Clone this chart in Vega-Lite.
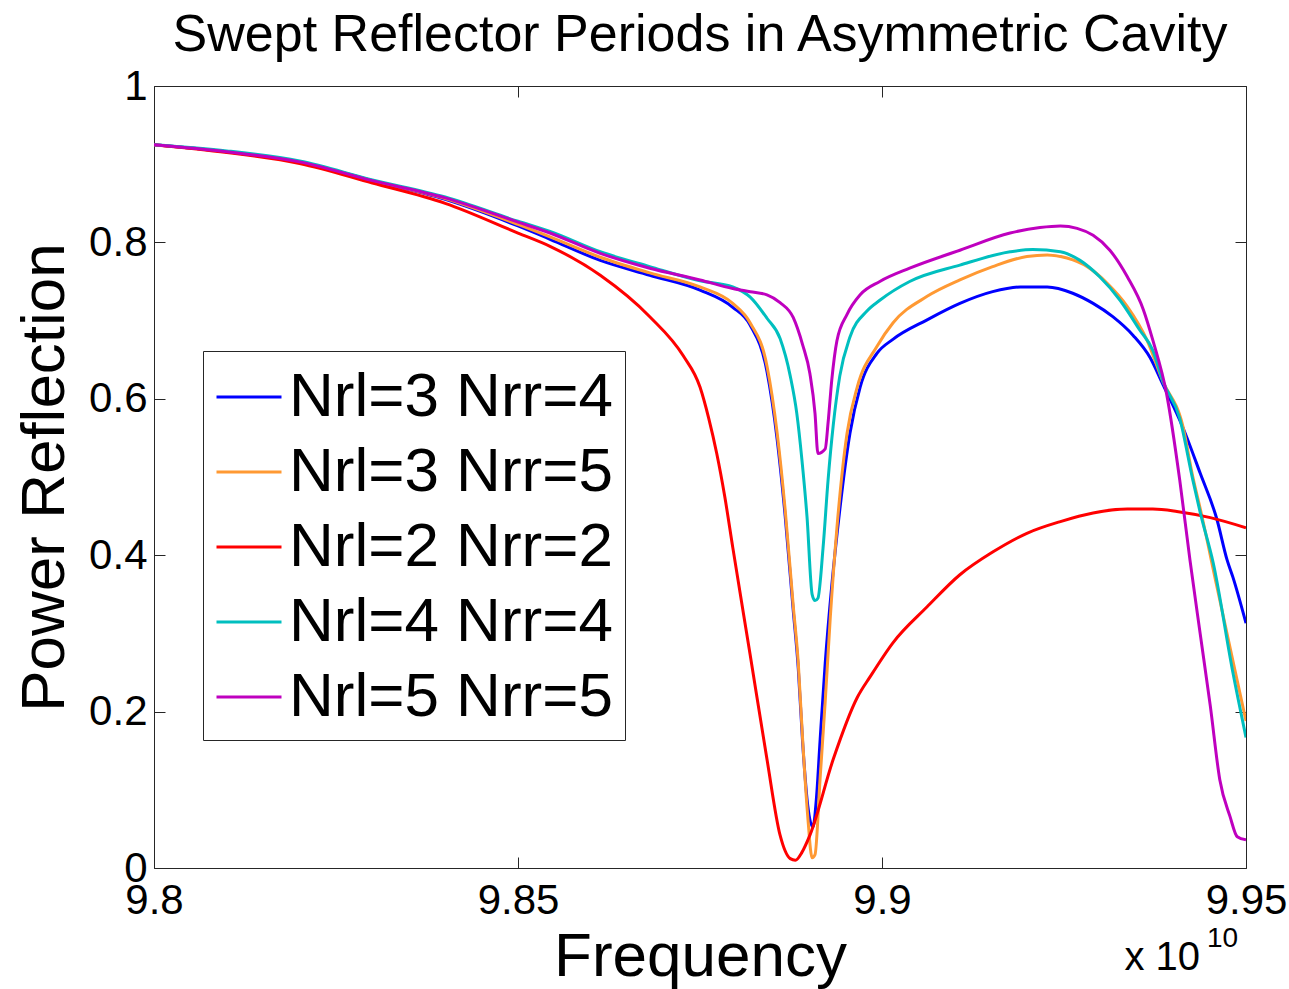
{
  "$schema": "https://vega.github.io/schema/vega-lite/v6.json",
  "autosize": "none",
  "padding": {"left": 154, "top": 86, "right": 43, "bottom": 121},
  "width": 1092,
  "height": 782,
  "title": {"text": "Swept Reflector Periods in Asymmetric Cavity", "font": "Liberation Sans", "fontSize": 52, "fontWeight": "normal", "color": "black", "anchor": "middle", "baseline": "alphabetic", "offset": 0, "dy": 38},
  "datasets": {
    "curves": [
      {"s":"Nrl=3 Nrr=4","f":9.80,"r":0.925},{"s":"Nrl=3 Nrr=4","f":9.81,"r":0.916},{"s":"Nrl=3 Nrr=4","f":9.82,"r":0.903},{"s":"Nrl=3 Nrr=4","f":9.83,"r":0.879},{"s":"Nrl=3 Nrr=4","f":9.84,"r":0.855},{"s":"Nrl=3 Nrr=4","f":9.85,"r":0.821},{"s":"Nrl=3 Nrr=4","f":9.8544,"r":0.804},{"s":"Nrl=3 Nrr=4","f":9.8613,"r":0.777},{"s":"Nrl=3 Nrr=4","f":9.8681,"r":0.758},{"s":"Nrl=3 Nrr=4","f":9.875,"r":0.739},{"s":"Nrl=3 Nrr=4","f":9.8795,"r":0.717},{"s":"Nrl=3 Nrr=4","f":9.8819,"r":0.694},{"s":"Nrl=3 Nrr=4","f":9.8842,"r":0.635},{"s":"Nrl=3 Nrr=4","f":9.8856,"r":0.548},{"s":"Nrl=3 Nrr=4","f":9.8867,"r":0.45},{"s":"Nrl=3 Nrr=4","f":9.8878,"r":0.33},{"s":"Nrl=3 Nrr=4","f":9.8885,"r":0.255},{"s":"Nrl=3 Nrr=4","f":9.8891,"r":0.16},{"s":"Nrl=3 Nrr=4","f":9.8898,"r":0.08},{"s":"Nrl=3 Nrr=4","f":9.8905,"r":0.052},{"s":"Nrl=3 Nrr=4","f":9.891,"r":0.09},{"s":"Nrl=3 Nrr=4","f":9.8915,"r":0.164},{"s":"Nrl=3 Nrr=4","f":9.8922,"r":0.262},{"s":"Nrl=3 Nrr=4","f":9.8931,"r":0.361},{"s":"Nrl=3 Nrr=4","f":9.8942,"r":0.458},{"s":"Nrl=3 Nrr=4","f":9.8956,"r":0.556},{"s":"Nrl=3 Nrr=4","f":9.897,"r":0.615},{"s":"Nrl=3 Nrr=4","f":9.8993,"r":0.658},{"s":"Nrl=3 Nrr=4","f":9.9015,"r":0.676},{"s":"Nrl=3 Nrr=4","f":9.9062,"r":0.701},{"s":"Nrl=3 Nrr=4","f":9.9107,"r":0.722},{"s":"Nrl=3 Nrr=4","f":9.9152,"r":0.737},{"s":"Nrl=3 Nrr=4","f":9.919,"r":0.743},{"s":"Nrl=3 Nrr=4","f":9.9227,"r":0.743},{"s":"Nrl=3 Nrr=4","f":9.9262,"r":0.735},{"s":"Nrl=3 Nrr=4","f":9.929,"r":0.722},{"s":"Nrl=3 Nrr=4","f":9.9317,"r":0.705},{"s":"Nrl=3 Nrr=4","f":9.9345,"r":0.681},{"s":"Nrl=3 Nrr=4","f":9.9368,"r":0.653},{"s":"Nrl=3 Nrr=4","f":9.9386,"r":0.618},{"s":"Nrl=3 Nrr=4","f":9.9413,"r":0.564},{"s":"Nrl=3 Nrr=4","f":9.9437,"r":0.505},{"s":"Nrl=3 Nrr=4","f":9.946,"r":0.446},{"s":"Nrl=3 Nrr=4","f":9.9474,"r":0.394},{"s":"Nrl=3 Nrr=4","f":9.9482,"r":0.372},{"s":"Nrl=3 Nrr=4","f":9.95,"r":0.313},

      {"s":"Nrl=3 Nrr=5","f":9.80,"r":0.925},{"s":"Nrl=3 Nrr=5","f":9.81,"r":0.916},{"s":"Nrl=3 Nrr=5","f":9.82,"r":0.903},{"s":"Nrl=3 Nrr=5","f":9.83,"r":0.879},{"s":"Nrl=3 Nrr=5","f":9.84,"r":0.856},{"s":"Nrl=3 Nrr=5","f":9.85,"r":0.823},{"s":"Nrl=3 Nrr=5","f":9.8544,"r":0.807},{"s":"Nrl=3 Nrr=5","f":9.8613,"r":0.781},{"s":"Nrl=3 Nrr=5","f":9.8681,"r":0.761},{"s":"Nrl=3 Nrr=5","f":9.875,"r":0.743},{"s":"Nrl=3 Nrr=5","f":9.8795,"r":0.722},{"s":"Nrl=3 Nrr=5","f":9.8819,"r":0.697},{"s":"Nrl=3 Nrr=5","f":9.8842,"r":0.642},{"s":"Nrl=3 Nrr=5","f":9.8856,"r":0.556},{"s":"Nrl=3 Nrr=5","f":9.8867,"r":0.458},{"s":"Nrl=3 Nrr=5","f":9.8878,"r":0.336},{"s":"Nrl=3 Nrr=5","f":9.8885,"r":0.262},{"s":"Nrl=3 Nrr=5","f":9.8891,"r":0.164},{"s":"Nrl=3 Nrr=5","f":9.8898,"r":0.066},{"s":"Nrl=3 Nrr=5","f":9.8904,"r":0.013},{"s":"Nrl=3 Nrr=5","f":9.8908,"r":0.017},{"s":"Nrl=3 Nrr=5","f":9.8915,"r":0.115},{"s":"Nrl=3 Nrr=5","f":9.8922,"r":0.213},{"s":"Nrl=3 Nrr=5","f":9.8929,"r":0.321},{"s":"Nrl=3 Nrr=5","f":9.8938,"r":0.434},{"s":"Nrl=3 Nrr=5","f":9.8952,"r":0.556},{"s":"Nrl=3 Nrr=5","f":9.8966,"r":0.615},{"s":"Nrl=3 Nrr=5","f":9.8993,"r":0.667},{"s":"Nrl=3 Nrr=5","f":9.9015,"r":0.697},{"s":"Nrl=3 Nrr=5","f":9.9062,"r":0.731},{"s":"Nrl=3 Nrr=5","f":9.9107,"r":0.752},{"s":"Nrl=3 Nrr=5","f":9.9152,"r":0.769},{"s":"Nrl=3 Nrr=5","f":9.9199,"r":0.782},{"s":"Nrl=3 Nrr=5","f":9.9227,"r":0.784},{"s":"Nrl=3 Nrr=5","f":9.9254,"r":0.78},{"s":"Nrl=3 Nrr=5","f":9.9282,"r":0.769},{"s":"Nrl=3 Nrr=5","f":9.9309,"r":0.748},{"s":"Nrl=3 Nrr=5","f":9.9337,"r":0.718},{"s":"Nrl=3 Nrr=5","f":9.9364,"r":0.675},{"s":"Nrl=3 Nrr=5","f":9.9386,"r":0.622},{"s":"Nrl=3 Nrr=5","f":9.9413,"r":0.566},{"s":"Nrl=3 Nrr=5","f":9.9427,"r":0.5},{"s":"Nrl=3 Nrr=5","f":9.9437,"r":0.46},{"s":"Nrl=3 Nrr=5","f":9.946,"r":0.36},{"s":"Nrl=3 Nrr=5","f":9.9482,"r":0.265},{"s":"Nrl=3 Nrr=5","f":9.95,"r":0.188},

      {"s":"Nrl=2 Nrr=2","f":9.80,"r":0.925},{"s":"Nrl=2 Nrr=2","f":9.81,"r":0.915},{"s":"Nrl=2 Nrr=2","f":9.82,"r":0.901},{"s":"Nrl=2 Nrr=2","f":9.83,"r":0.876},{"s":"Nrl=2 Nrr=2","f":9.84,"r":0.85},{"s":"Nrl=2 Nrr=2","f":9.85,"r":0.812},{"s":"Nrl=2 Nrr=2","f":9.8544,"r":0.795},{"s":"Nrl=2 Nrr=2","f":9.8613,"r":0.758},{"s":"Nrl=2 Nrr=2","f":9.8681,"r":0.705},{"s":"Nrl=2 Nrr=2","f":9.8727,"r":0.655},{"s":"Nrl=2 Nrr=2","f":9.875,"r":0.615},{"s":"Nrl=2 Nrr=2","f":9.8762,"r":0.575},{"s":"Nrl=2 Nrr=2","f":9.8773,"r":0.53},{"s":"Nrl=2 Nrr=2","f":9.8784,"r":0.475},{"s":"Nrl=2 Nrr=2","f":9.8795,"r":0.41},{"s":"Nrl=2 Nrr=2","f":9.8819,"r":0.272},{"s":"Nrl=2 Nrr=2","f":9.8842,"r":0.139},{"s":"Nrl=2 Nrr=2","f":9.886,"r":0.042},{"s":"Nrl=2 Nrr=2","f":9.8874,"r":0.012},{"s":"Nrl=2 Nrr=2","f":9.8881,"r":0.01},{"s":"Nrl=2 Nrr=2","f":9.889,"r":0.02},{"s":"Nrl=2 Nrr=2","f":9.8901,"r":0.042},{"s":"Nrl=2 Nrr=2","f":9.8933,"r":0.139},{"s":"Nrl=2 Nrr=2","f":9.8966,"r":0.218},{"s":"Nrl=2 Nrr=2","f":9.8984,"r":0.245},{"s":"Nrl=2 Nrr=2","f":9.9015,"r":0.288},{"s":"Nrl=2 Nrr=2","f":9.9062,"r":0.334},{"s":"Nrl=2 Nrr=2","f":9.9107,"r":0.375},{"s":"Nrl=2 Nrr=2","f":9.9152,"r":0.404},{"s":"Nrl=2 Nrr=2","f":9.9199,"r":0.428},{"s":"Nrl=2 Nrr=2","f":9.9245,"r":0.443},{"s":"Nrl=2 Nrr=2","f":9.929,"r":0.454},{"s":"Nrl=2 Nrr=2","f":9.9337,"r":0.459},{"s":"Nrl=2 Nrr=2","f":9.9372,"r":0.459},{"s":"Nrl=2 Nrr=2","f":9.9405,"r":0.456},{"s":"Nrl=2 Nrr=2","f":9.9451,"r":0.448},{"s":"Nrl=2 Nrr=2","f":9.95,"r":0.435},

      {"s":"Nrl=4 Nrr=4","f":9.80,"r":0.925},{"s":"Nrl=4 Nrr=4","f":9.81,"r":0.917},{"s":"Nrl=4 Nrr=4","f":9.82,"r":0.904},{"s":"Nrl=4 Nrr=4","f":9.83,"r":0.88},{"s":"Nrl=4 Nrr=4","f":9.84,"r":0.858},{"s":"Nrl=4 Nrr=4","f":9.85,"r":0.827},{"s":"Nrl=4 Nrr=4","f":9.8544,"r":0.814},{"s":"Nrl=4 Nrr=4","f":9.8613,"r":0.788},{"s":"Nrl=4 Nrr=4","f":9.8681,"r":0.769},{"s":"Nrl=4 Nrr=4","f":9.875,"r":0.751},{"s":"Nrl=4 Nrr=4","f":9.8795,"r":0.743},{"s":"Nrl=4 Nrr=4","f":9.8819,"r":0.73},{"s":"Nrl=4 Nrr=4","f":9.8842,"r":0.703},{"s":"Nrl=4 Nrr=4","f":9.886,"r":0.677},{"s":"Nrl=4 Nrr=4","f":9.8874,"r":0.629},{"s":"Nrl=4 Nrr=4","f":9.8883,"r":0.581},{"s":"Nrl=4 Nrr=4","f":9.889,"r":0.522},{"s":"Nrl=4 Nrr=4","f":9.8897,"r":0.449},{"s":"Nrl=4 Nrr=4","f":9.8904,"r":0.35},{"s":"Nrl=4 Nrr=4","f":9.8908,"r":0.342},{"s":"Nrl=4 Nrr=4","f":9.8912,"r":0.345},{"s":"Nrl=4 Nrr=4","f":9.8919,"r":0.409},{"s":"Nrl=4 Nrr=4","f":9.8926,"r":0.497},{"s":"Nrl=4 Nrr=4","f":9.8933,"r":0.566},{"s":"Nrl=4 Nrr=4","f":9.8942,"r":0.629},{"s":"Nrl=4 Nrr=4","f":9.8956,"r":0.679},{"s":"Nrl=4 Nrr=4","f":9.8979,"r":0.712},{"s":"Nrl=4 Nrr=4","f":9.8997,"r":0.726},{"s":"Nrl=4 Nrr=4","f":9.9038,"r":0.75},{"s":"Nrl=4 Nrr=4","f":9.9107,"r":0.771},{"s":"Nrl=4 Nrr=4","f":9.9176,"r":0.788},{"s":"Nrl=4 Nrr=4","f":9.9207,"r":0.791},{"s":"Nrl=4 Nrr=4","f":9.9245,"r":0.788},{"s":"Nrl=4 Nrr=4","f":9.9272,"r":0.777},{"s":"Nrl=4 Nrr=4","f":9.9299,"r":0.756},{"s":"Nrl=4 Nrr=4","f":9.9327,"r":0.726},{"s":"Nrl=4 Nrr=4","f":9.9354,"r":0.688},{"s":"Nrl=4 Nrr=4","f":9.9372,"r":0.662},{"s":"Nrl=4 Nrr=4","f":9.9386,"r":0.622},{"s":"Nrl=4 Nrr=4","f":9.9409,"r":0.575},{"s":"Nrl=4 Nrr=4","f":9.9427,"r":0.496},{"s":"Nrl=4 Nrr=4","f":9.9437,"r":0.455},{"s":"Nrl=4 Nrr=4","f":9.9455,"r":0.39},{"s":"Nrl=4 Nrr=4","f":9.9482,"r":0.25},{"s":"Nrl=4 Nrr=4","f":9.95,"r":0.167},

      {"s":"Nrl=5 Nrr=5","f":9.80,"r":0.925},{"s":"Nrl=5 Nrr=5","f":9.81,"r":0.916},{"s":"Nrl=5 Nrr=5","f":9.82,"r":0.903},{"s":"Nrl=5 Nrr=5","f":9.83,"r":0.879},{"s":"Nrl=5 Nrr=5","f":9.84,"r":0.857},{"s":"Nrl=5 Nrr=5","f":9.85,"r":0.826},{"s":"Nrl=5 Nrr=5","f":9.8544,"r":0.812},{"s":"Nrl=5 Nrr=5","f":9.8613,"r":0.786},{"s":"Nrl=5 Nrr=5","f":9.8681,"r":0.767},{"s":"Nrl=5 Nrr=5","f":9.875,"r":0.752},{"s":"Nrl=5 Nrr=5","f":9.8795,"r":0.741},{"s":"Nrl=5 Nrr=5","f":9.8819,"r":0.737},{"s":"Nrl=5 Nrr=5","f":9.8842,"r":0.733},{"s":"Nrl=5 Nrr=5","f":9.886,"r":0.723},{"s":"Nrl=5 Nrr=5","f":9.8878,"r":0.704},{"s":"Nrl=5 Nrr=5","f":9.8891,"r":0.669},{"s":"Nrl=5 Nrr=5","f":9.8901,"r":0.632},{"s":"Nrl=5 Nrr=5","f":9.8908,"r":0.581},{"s":"Nrl=5 Nrr=5","f":9.8912,"r":0.53},{"s":"Nrl=5 Nrr=5","f":9.8922,"r":0.536},{"s":"Nrl=5 Nrr=5","f":9.8926,"r":0.57},{"s":"Nrl=5 Nrr=5","f":9.8931,"r":0.624},{"s":"Nrl=5 Nrr=5","f":9.8938,"r":0.674},{"s":"Nrl=5 Nrr=5","f":9.8952,"r":0.708},{"s":"Nrl=5 Nrr=5","f":9.897,"r":0.733},{"s":"Nrl=5 Nrr=5","f":9.8997,"r":0.75},{"s":"Nrl=5 Nrr=5","f":9.9038,"r":0.767},{"s":"Nrl=5 Nrr=5","f":9.9107,"r":0.79},{"s":"Nrl=5 Nrr=5","f":9.9176,"r":0.812},{"s":"Nrl=5 Nrr=5","f":9.9217,"r":0.819},{"s":"Nrl=5 Nrr=5","f":9.9245,"r":0.821},{"s":"Nrl=5 Nrr=5","f":9.9268,"r":0.818},{"s":"Nrl=5 Nrr=5","f":9.929,"r":0.809},{"s":"Nrl=5 Nrr=5","f":9.9313,"r":0.79},{"s":"Nrl=5 Nrr=5","f":9.9337,"r":0.756},{"s":"Nrl=5 Nrr=5","f":9.9359,"r":0.714},{"s":"Nrl=5 Nrr=5","f":9.9372,"r":0.675},{"s":"Nrl=5 Nrr=5","f":9.9391,"r":0.606},{"s":"Nrl=5 Nrr=5","f":9.9409,"r":0.496},{"s":"Nrl=5 Nrr=5","f":9.9423,"r":0.394},{"s":"Nrl=5 Nrr=5","f":9.9437,"r":0.3},{"s":"Nrl=5 Nrr=5","f":9.9451,"r":0.207},{"s":"Nrl=5 Nrr=5","f":9.9464,"r":0.113},{"s":"Nrl=5 Nrr=5","f":9.9478,"r":0.066},{"s":"Nrl=5 Nrr=5","f":9.9488,"r":0.04},{"s":"Nrl=5 Nrr=5","f":9.95,"r":0.036}
    ]
  },
  "data": {"name": "curves"},
  "layer": [
    {
      "mark": {"type": "line", "strokeWidth": 3, "clip": true, "interpolate": "monotone"},
      "encoding": {
        "x": {"field": "f", "type": "quantitative", "scale": {"domain": [9.8, 9.95], "nice": false, "zero": false},
              "axis": {"orient": "bottom", "title": "Frequency", "values": [9.8, 9.85, 9.9, 9.95], "labelExpr": "'' + datum.value", "labelPadding": 23, "labelFlush": false, "titleY": 107, "titleBaseline": "alphabetic", "titleAnchor": "middle"}},
        "y": {"field": "r", "type": "quantitative", "scale": {"domain": [0, 1], "nice": false, "zero": false},
              "axis": {"orient": "left", "title": "Power Reflection", "values": [0, 0.2, 0.4, 0.6, 0.8, 1], "labelExpr": "'' + datum.value", "labelPadding": 18, "labelFlush": false, "titleX": -91, "titleY": 391, "titleAngle": -90, "titleBaseline": "alphabetic", "titleAlign": "center"}},
        "color": {"field": "s", "type": "nominal",
                  "scale": {"domain": ["Nrl=3 Nrr=4", "Nrl=3 Nrr=5", "Nrl=2 Nrr=2", "Nrl=4 Nrr=4", "Nrl=5 Nrr=5"], "range": ["#0000FF", "#FF9933", "#FF0000", "#00BFBF", "#BF00BF"]},
                  "legend": {"title": null, "orient": "none", "legendX": 49, "legendY": 265, "symbolType": "stroke", "symbolSize": 4225, "symbolStrokeWidth": 3, "labelFont": "Liberation Sans", "labelFontSize": 62, "labelColor": "black", "labelOffset": 6, "labelLimit": 0, "rowPadding": 10, "padding": 12, "strokeColor": "#262626", "fillColor": "white", "cornerRadius": 0}}
      }
    },
    {
      "mark": {"type": "point", "opacity": 0},
      "encoding": {
        "x": {"field": "f", "type": "quantitative", "axis": {"orient": "top", "title": null, "labels": false, "values": [9.8, 9.85, 9.9, 9.95]}},
        "y": {"field": "r", "type": "quantitative", "axis": {"orient": "right", "title": null, "labels": false, "values": [0, 0.2, 0.4, 0.6, 0.8, 1]}}
      }
    },
    {
      "data": {"values": [{"label": "x 10"}]},
      "mark": {"type": "text", "align": "right", "baseline": "alphabetic", "dx": -46, "dy": 102, "fontSize": 40, "font": "Liberation Sans", "color": "black"},
      "encoding": {
        "x": {"datum": 9.95, "type": "quantitative", "axis": null},
        "y": {"datum": 0, "type": "quantitative", "axis": null},
        "text": {"field": "label"}
      }
    },
    {
      "data": {"values": [{"label": "10"}]},
      "mark": {"type": "text", "align": "left", "baseline": "alphabetic", "dx": -39, "dy": 79, "fontSize": 28, "font": "Liberation Sans", "color": "black"},
      "encoding": {
        "x": {"datum": 9.95, "type": "quantitative", "axis": null},
        "y": {"datum": 0, "type": "quantitative", "axis": null},
        "text": {"field": "label"}
      }
    }
  ],
  "resolve": {"axis": {"x": "independent", "y": "independent"}},
  "config": {
    "font": "Liberation Sans",
    "background": "white",
    "view": {"stroke": "#262626", "strokeWidth": 1},
    "axis": {"grid": false, "domain": false, "tickColor": "#262626", "tickSize": -11, "tickWidth": 1, "labelFont": "Liberation Sans", "labelFontSize": 42, "labelColor": "black", "titleFont": "Liberation Sans", "titleFontSize": 62, "titleFontWeight": "normal", "titleColor": "black"}
  }
}
